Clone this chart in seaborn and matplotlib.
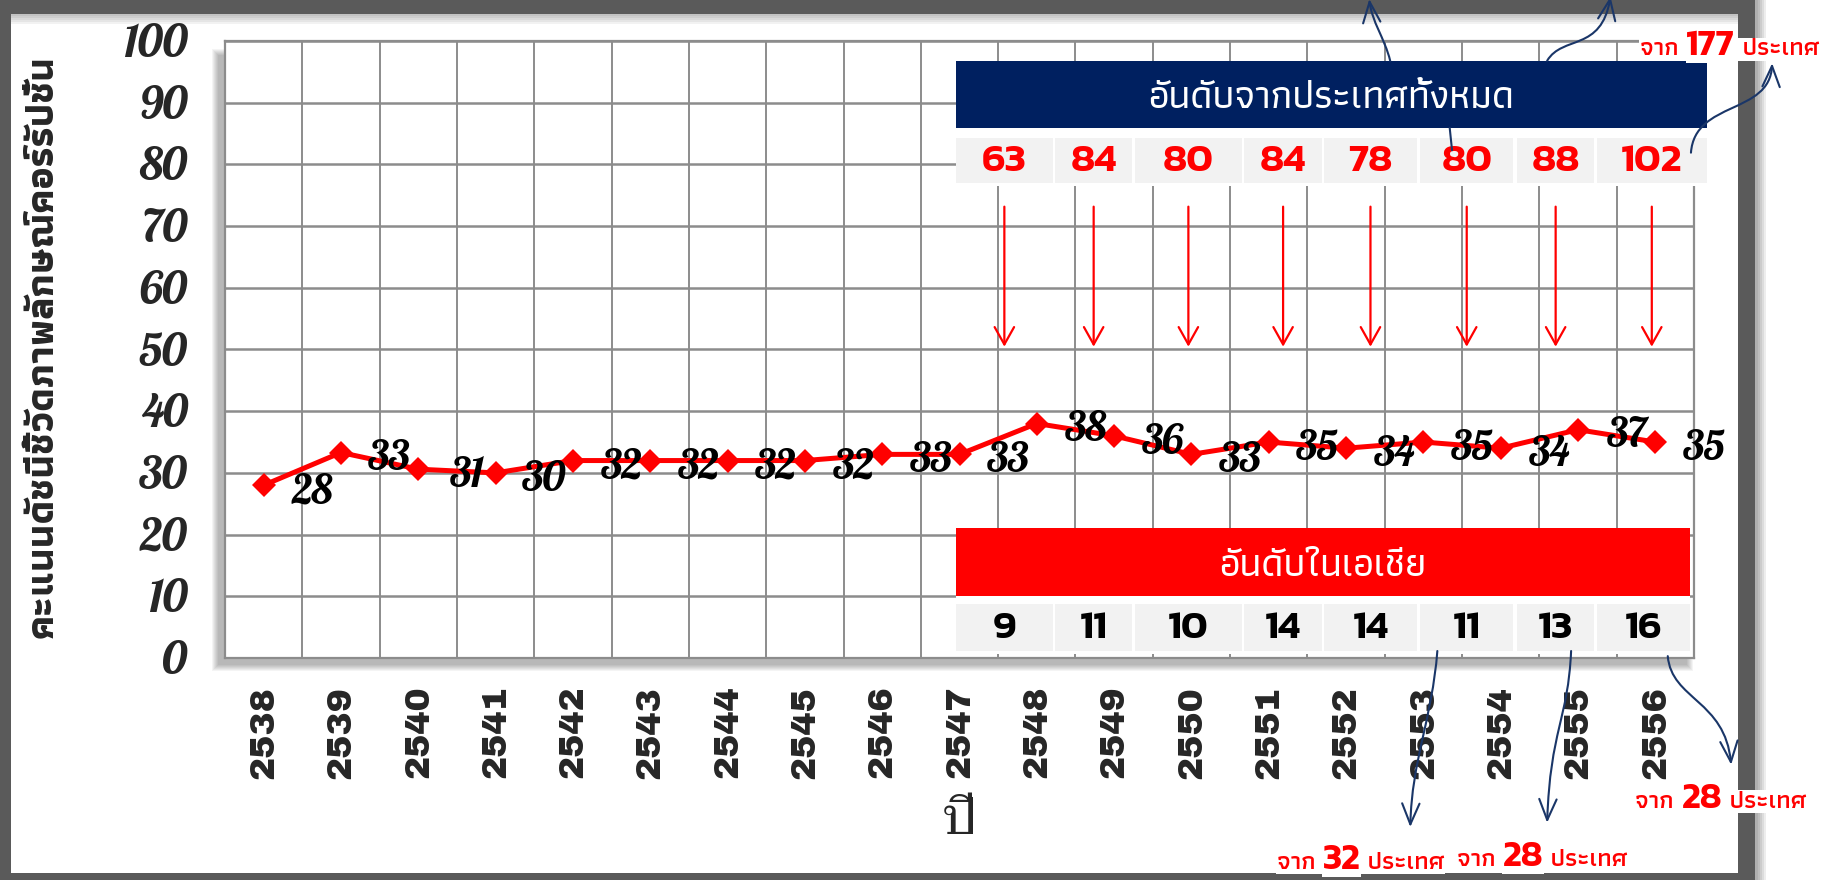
import numpy as np
import pandas as pd
import matplotlib
matplotlib.use("Agg")
import matplotlib.pyplot as plt
import seaborn as sns
from matplotlib.patches import Rectangle, FancyArrowPatch
from matplotlib.path import Path

# ---- data ----
years = [str(y) for y in range(2538, 2557)]
cpi = [28, 33.3, 30.6, 30, 32, 32, 32, 32, 33, 33, 38, 36, 33, 35, 34, 35, 34, 37, 35]
world_rank = [63, 84, 80, 84, 78, 80, 88, 102]
asia_rank = [9, 11, 10, 14, 14, 11, 13, 16]
world_title = "อันดับจากประเทศทั้งหมด"
asia_title = "อันดับในเอเชีย"
notes = ["177", "32", "28", "28"]   # "จาก N ประเทศ"
ylabel = "คะแนนดัชนีชี้วัดภาพลักษณ์คอร์รัปชั่น"
xlabel = "ปี"

# ---- fonts ----
SCRIPT = "Lobster"
XFONT = "Archivo Black"
THAI_SERIF = "Taviraj"
THAI = "Athiti"
NUM = "Kanit"

sns.set_style("white")
plt.rcParams["font.family"] = ["DejaVu Sans"]

fig, ax = plt.subplots(figsize=(18.32, 8.8), dpi=100)
fig.subplots_adjust(left=0.1228, right=0.9247, bottom=0.2523, top=0.9534)

W, H = 1832.0, 880.0
def fr(x, y):
    return x / W, 1 - y / H

# frame around the slide (behind everything in the axes)
FRAME = "#5a5a5a"
for (x, y, w, h) in [(0, 0, 1755, 14), (0, 0, 11, 880), (0, 873, 1755, 7), (1738, 0, 17, 880)]:
    fig.add_artist(Rectangle(fr(x, y + h), w / W, h / H, transform=fig.transFigure,
                             fc=FRAME, ec="none", zorder=-3))
for k in range(5):
    fig.add_artist(Rectangle(fr(1755, 880), (3 + 2 * k) / W, 1, transform=fig.transFigure,
                             fc="black", alpha=0.07, ec="none", zorder=-4))
    fig.add_artist(Rectangle(fr(11, 14 + 2 + 2 * k), 1727 / W, (2 + 2 * k) / H,
                             transform=fig.transFigure, fc="black", alpha=0.05, ec="none",
                             zorder=-4))

# soft shadow behind the plot area
for k in range(7):
    x0, y0 = fr(225 - 7 - k, 658 + 7 + k)
    fig.add_artist(Rectangle((x0, y0), (1469 + 2 * k) / W, (610 + 2 * k) / H,
                             transform=fig.transFigure, fc="black", alpha=0.045,
                             ec="none", zorder=-1))

# ---- line ----
df = pd.DataFrame({"pos": np.arange(len(years)), "cpi": cpi})
sns.lineplot(data=df, x="pos", y="cpi", color="#ff0000", lw=3.6, marker="D",
             markersize=12, markeredgewidth=0, ax=ax, zorder=5)

for i, v in enumerate(cpi):
    ax.annotate(f"{v:.0f}", (i, v), xytext=(35, -6), textcoords="offset points",
                ha="center", va="center", fontfamily=SCRIPT, fontsize=30,
                color="black", zorder=6)

ax.set_xlim(-0.5, len(years) - 0.5)
ax.set_ylim(0, 100)
ax.set_xticks(np.arange(len(years)))
ax.set_xticklabels(years, rotation=90, fontfamily=XFONT, fontsize=25)
ax.set_xticks(np.arange(-0.5, len(years), 1), minor=True)
ax.set_yticks(np.arange(0, 101, 10))
ax.set_yticklabels([str(t) for t in range(0, 101, 10)], fontfamily=SCRIPT, fontsize=33)
ax.grid(False)
ax.grid(which="minor", axis="x", color="#8c8c8c", lw=1.4)
ax.grid(which="major", axis="y", color="#8c8c8c", lw=1.8)
ax.tick_params(axis="both", which="both", length=0)
ax.tick_params(axis="x", pad=20)
ax.tick_params(axis="y", pad=27)
for s in ax.spines.values():
    s.set_color("#8c8c8c")
    s.set_linewidth(1.6)

ax.set_xlabel(xlabel, fontfamily=THAI_SERIF, fontsize=36, va="center")
ax.xaxis.set_label_coords(0.5, -0.265)
ax.set_ylabel(ylabel, fontfamily=THAI, fontweight=700, fontsize=28, va="center")
ax.yaxis.set_label_coords(-0.124, 0.505)

# ---- rank tables ----
cell_left = [8.95, 10.24, 11.27, 12.68, 13.71, 14.96, 16.21, 17.24]
cell_right = [10.21, 11.23, 12.65, 13.69, 14.92, 16.16, 17.21]

def rank_table(title, values, y_box, y_cells, box_color, num_color, last_right):
    rights = cell_right + [last_right]
    x0, x1 = cell_left[0], last_right
    ax.add_patch(Rectangle((x0, y_cells[0] - 0.5), x1 - x0, y_box[1] - y_cells[0] + 0.5,
                           fc="white", ec="none", zorder=7, clip_on=False))
    ax.add_patch(Rectangle((x0, y_box[0]), x1 - x0, y_box[1] - y_box[0],
                           fc=box_color, ec="none", zorder=8, clip_on=False))
    ax.text((x0 + x1) / 2, (y_box[0] + y_box[1]) / 2 - 0.6, title, ha="center",
            va="center", color="white", fontfamily=THAI, fontweight=500, fontsize=28,
            zorder=9)
    for l, r, v in zip(cell_left, rights, values):
        ax.add_patch(Rectangle((l, y_cells[0]), r - l, y_cells[1] - y_cells[0],
                               fc="#f2f2f2", ec="none", zorder=8, clip_on=False))
        ax.text((l + r) / 2, (y_cells[0] + y_cells[1]) / 2 - 0.3, str(v), ha="center",
                va="center", color=num_color, fontfamily=NUM, fontweight=600,
                fontsize=29, zorder=9)
    return rights

rights = rank_table(world_title, world_rank, (85.9, 96.8), (77.0, 84.3), "#002060",
                    "#ff0000", 18.667)
rank_table(asia_title, asia_rank, (10.05, 21.07), (1.13, 8.75), "#ff0000", "black", 18.447)

# red arrows from the world-rank cells down to the line
for l, r in zip(cell_left, rights):
    c = (l + r) / 2
    ax.annotate("", xy=(c, 50), xytext=(c, 73.6),
                arrowprops=dict(arrowstyle="->,head_length=0.5,head_width=0.28",
                                color="#ff0000", lw=1.6, mutation_scale=25), zorder=6)

# navy curved pointers (cubic curves, data coordinates)
NAVY = "#1a3668"
curves = [
    [(14.57, 96.8), (14.50, 100.4), (14.33, 103.2), (14.30, 106.8)],
    [(16.60, 96.8), (16.80, 101.0), (17.30, 98.2), (17.42, 107.2)],
    [(18.46, 81.9), (18.51, 90.4), (19.48, 88.0), (19.51, 96.4)],
    [(15.18, 1.13), (15.11, -10.0), (14.85, -16.5), (14.83, -27.4)],
    [(16.91, 1.13), (16.87, -10.0), (16.64, -11.7), (16.60, -26.7)],
    [(18.16, 0.3), (18.21, -6.8), (18.90, -6.8), (18.98, -17.3)],
]
codes = [Path.MOVETO, Path.CURVE4, Path.CURVE4, Path.CURVE4]
for pts in curves:
    arr = FancyArrowPatch(path=Path(pts, codes),
                          arrowstyle="->,head_length=0.6,head_width=0.25",
                          color=NAVY, lw=1.5, mutation_scale=25, zorder=10, clip_on=False)
    ax.add_patch(arr)
ax.plot([15.34, 15.37], [85.9, 82.3], color=NAVY, lw=1.5, zorder=10, clip_on=False)

# "จาก N ประเทศ" notes (baseline positions)
note_pos = [(17.80, 97.7), (13.10, -34.2), (15.43, -33.7), (17.74, -24.3)]
box = dict(fc="white", ec="none", pad=0.3)
for n, (x, y) in zip(notes, note_pos):
    t1 = ax.text(x, y, "จาก ", ha="left", va="baseline", color="#ff0000",
                 fontfamily=THAI, fontweight=600, fontsize=18, zorder=10, clip_on=False,
                 bbox=box)
    t2 = ax.annotate(n, xy=(1, 0), xycoords=t1, ha="left", va="bottom", color="#ff0000",
                     fontfamily=NUM, fontweight=600, fontsize=26, zorder=10,
                     xytext=(0, -2), textcoords="offset points", bbox=box)
    ax.annotate(" ประเทศ", xy=(1, 0), xycoords=t2, ha="left", va="bottom",
                color="#ff0000", fontfamily=THAI, fontweight=600, fontsize=18, zorder=10,
                xytext=(0, 2), textcoords="offset points", bbox=box)

fig.savefig("out.png", dpi=100)
